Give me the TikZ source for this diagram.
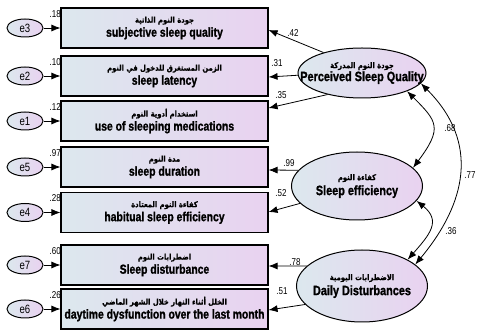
\documentclass[tikz,border=0pt]{standalone}
\usepackage{fontspec}
\setmainfont{Liberation Sans}
\newfontfamily\narrowf{Liberation Sans}[FakeStretch=0.80]
\newfontfamily\narrowbf{Liberation Sans}[FakeStretch=0.80,UprightFont=*-Bold,FakeBold=1.2]
\newfontfamily\arabicbf[Script=Arabic,FakeStretch=0.85,UprightFont=*-Bold,FakeBold=0.8]{DejaVu Sans}
\TeXXeTstate=1
\usetikzlibrary{arrows.meta,shapes.geometric}
\definecolor{gl}{RGB}{220,232,238}
\definecolor{gr}{RGB}{233,210,240}
\tikzset{
  box/.style={draw, line width=1.1pt, left color=gl, right color=gr, minimum width=207pt, minimum height=40pt, inner sep=0pt, align=center},
  err/.style={ellipse, draw, line width=1pt, left color=gl, right color=gr, minimum width=36pt, minimum height=18pt, inner sep=0pt, font=\fontsize{12}{12}\selectfont\narrowf},
  lat/.style={ellipse, draw, line width=1pt, left color=gl, right color=gr, inner sep=0pt, align=center},
  arr/.style={-{Latex[length=9pt,width=7pt]}, line width=0.8pt},
  dbl/.style={{Latex[length=9pt,width=7pt]}-{Latex[length=9pt,width=7pt]}, line width=0.8pt},
  num/.style={font=\fontsize{10}{11}\selectfont\narrowf, inner sep=0pt},
}
\newcommand{\ar}[1]{{\fontsize{8}{9}\selectfont\arabicbf\beginR #1\endR}}
\newcommand{\en}[1]{{\fontsize{13}{14}\selectfont\narrowbf #1}}
\newcommand{\enl}[1]{\makebox[0pt][c]{\fontsize{13.6}{15}\selectfont\narrowbf #1}}
\begin{document}
\begin{tikzpicture}[x=1pt,y=-1pt]
\useasboundingbox (0,0) rectangle (480,331);
% indicator boxes
\node[box] (b1) at (164.5,28) {\ar{جودة النوم الذاتية}\\[2pt]\en{subjective sleep quality}};
\node[box] (b2) at (164.5,76) {\ar{الزمن المستغرق للدخول في النوم}\\[2pt]\en{sleep latency}};
\node[box] (b3) at (164.5,121) {\ar{استخدام أدوية النوم}\\[2pt]\en{use of sleeping medications}};
\node[box] (b4) at (164.5,167) {\ar{مدة النوم}\\[2pt]\en{sleep duration}};
\node[box] (b5) at (164.5,212.5) {\ar{كفاءة النوم المعتادة}\\[2pt]\en{habitual sleep efficiency}};
\node[box] (b6) at (164.5,265) {\ar{اضطرابات النوم}\\[2pt]\en{Sleep disturbance}};
\node[box] (b7) at (164.5,309) {\ar{الخلل أثناء النهار خلال الشهر الماضي}\\[2pt]\en{daytime dysfunction over the last month}};
% error terms
\node[err] (e3) at (25,28) {e3};
\node[err] (e2) at (25,76) {e2};
\node[err] (e1) at (25,121) {e1};
\node[err] (e5) at (25,167) {e5};
\node[err] (e4) at (25,212.5) {e4};
\node[err] (e7) at (25,265) {e7};
\node[err] (e6) at (25,309) {e6};
\foreach \e/\b in {e3/b1,e2/b2,e1/b3,e5/b4,e4/b5,e7/b6,e6/b7}
  \draw[arr] (\e.east) -- (\b.west |- \e.east);
% R squared
\node[num, anchor=south east] at (61,18) {.18};
\node[num, anchor=south east] at (61,66) {.10};
\node[num, anchor=south east] at (61,111) {.12};
\node[num, anchor=south east] at (61,157) {.97};
\node[num, anchor=south east] at (61,202) {.28};
\node[num, anchor=south east] at (61,255) {.60};
\node[num, anchor=south east] at (61,299) {.26};
% latent variables
\node[lat, minimum width=128pt, minimum height=50pt] (psq) at (362,73) {\ar{جودة النوم المدركة}\\[1pt]\enl{Perceived Sleep Quality}};
\node[lat, minimum width=131pt, minimum height=68pt] (se) at (357,186) {\ar{كفاءة النوم}\\[3pt]\enl{Sleep efficiency}};
\node[lat, minimum width=131pt, minimum height=72pt] (dd) at (362,286) {\ar{الاضطرابات اليومية}\\[3pt]\enl{Daily Disturbances}};
% loadings
\draw[arr] (psq.152) -- (b1.east |- 0,30);
\draw[arr] (psq.182) -- (b2.east |- 0,77);
\draw[arr] (psq.212) -- (b3.east |- 0,108);
\draw[arr] (se.165) -- (b4.east |- 0,170);
\draw[arr] (se.197) -- (b5.east |- 0,212);
\draw[arr] (dd.160) -- (b6.east |- 0,266);
\draw[arr] (dd.198) -- (b7.east |- 0,310);
\node[num] at (293,33) {.42};
\node[num] at (277,63) {.31};
\node[num] at (281,95) {.35};
\node[num] at (289,163) {.99};
\node[num] at (281,193) {.52};
\node[num] at (295,262) {.78};
\node[num] at (282,291) {.51};
% covariances
\draw[dbl] (psq.-22) .. controls +(30,30) and +(30,-40) .. (se.18);
\draw[dbl] (psq.-10) .. controls +(60,60) and +(50,-60) .. (dd.22);
\draw[dbl] (se.-14) .. controls +(25,20) and +(22,-25) .. (dd.30);
\node[num] at (450,128) {.68};
\node[num] at (470,175) {.77};
\node[num] at (451,231) {.36};
\end{tikzpicture}
\end{document}
